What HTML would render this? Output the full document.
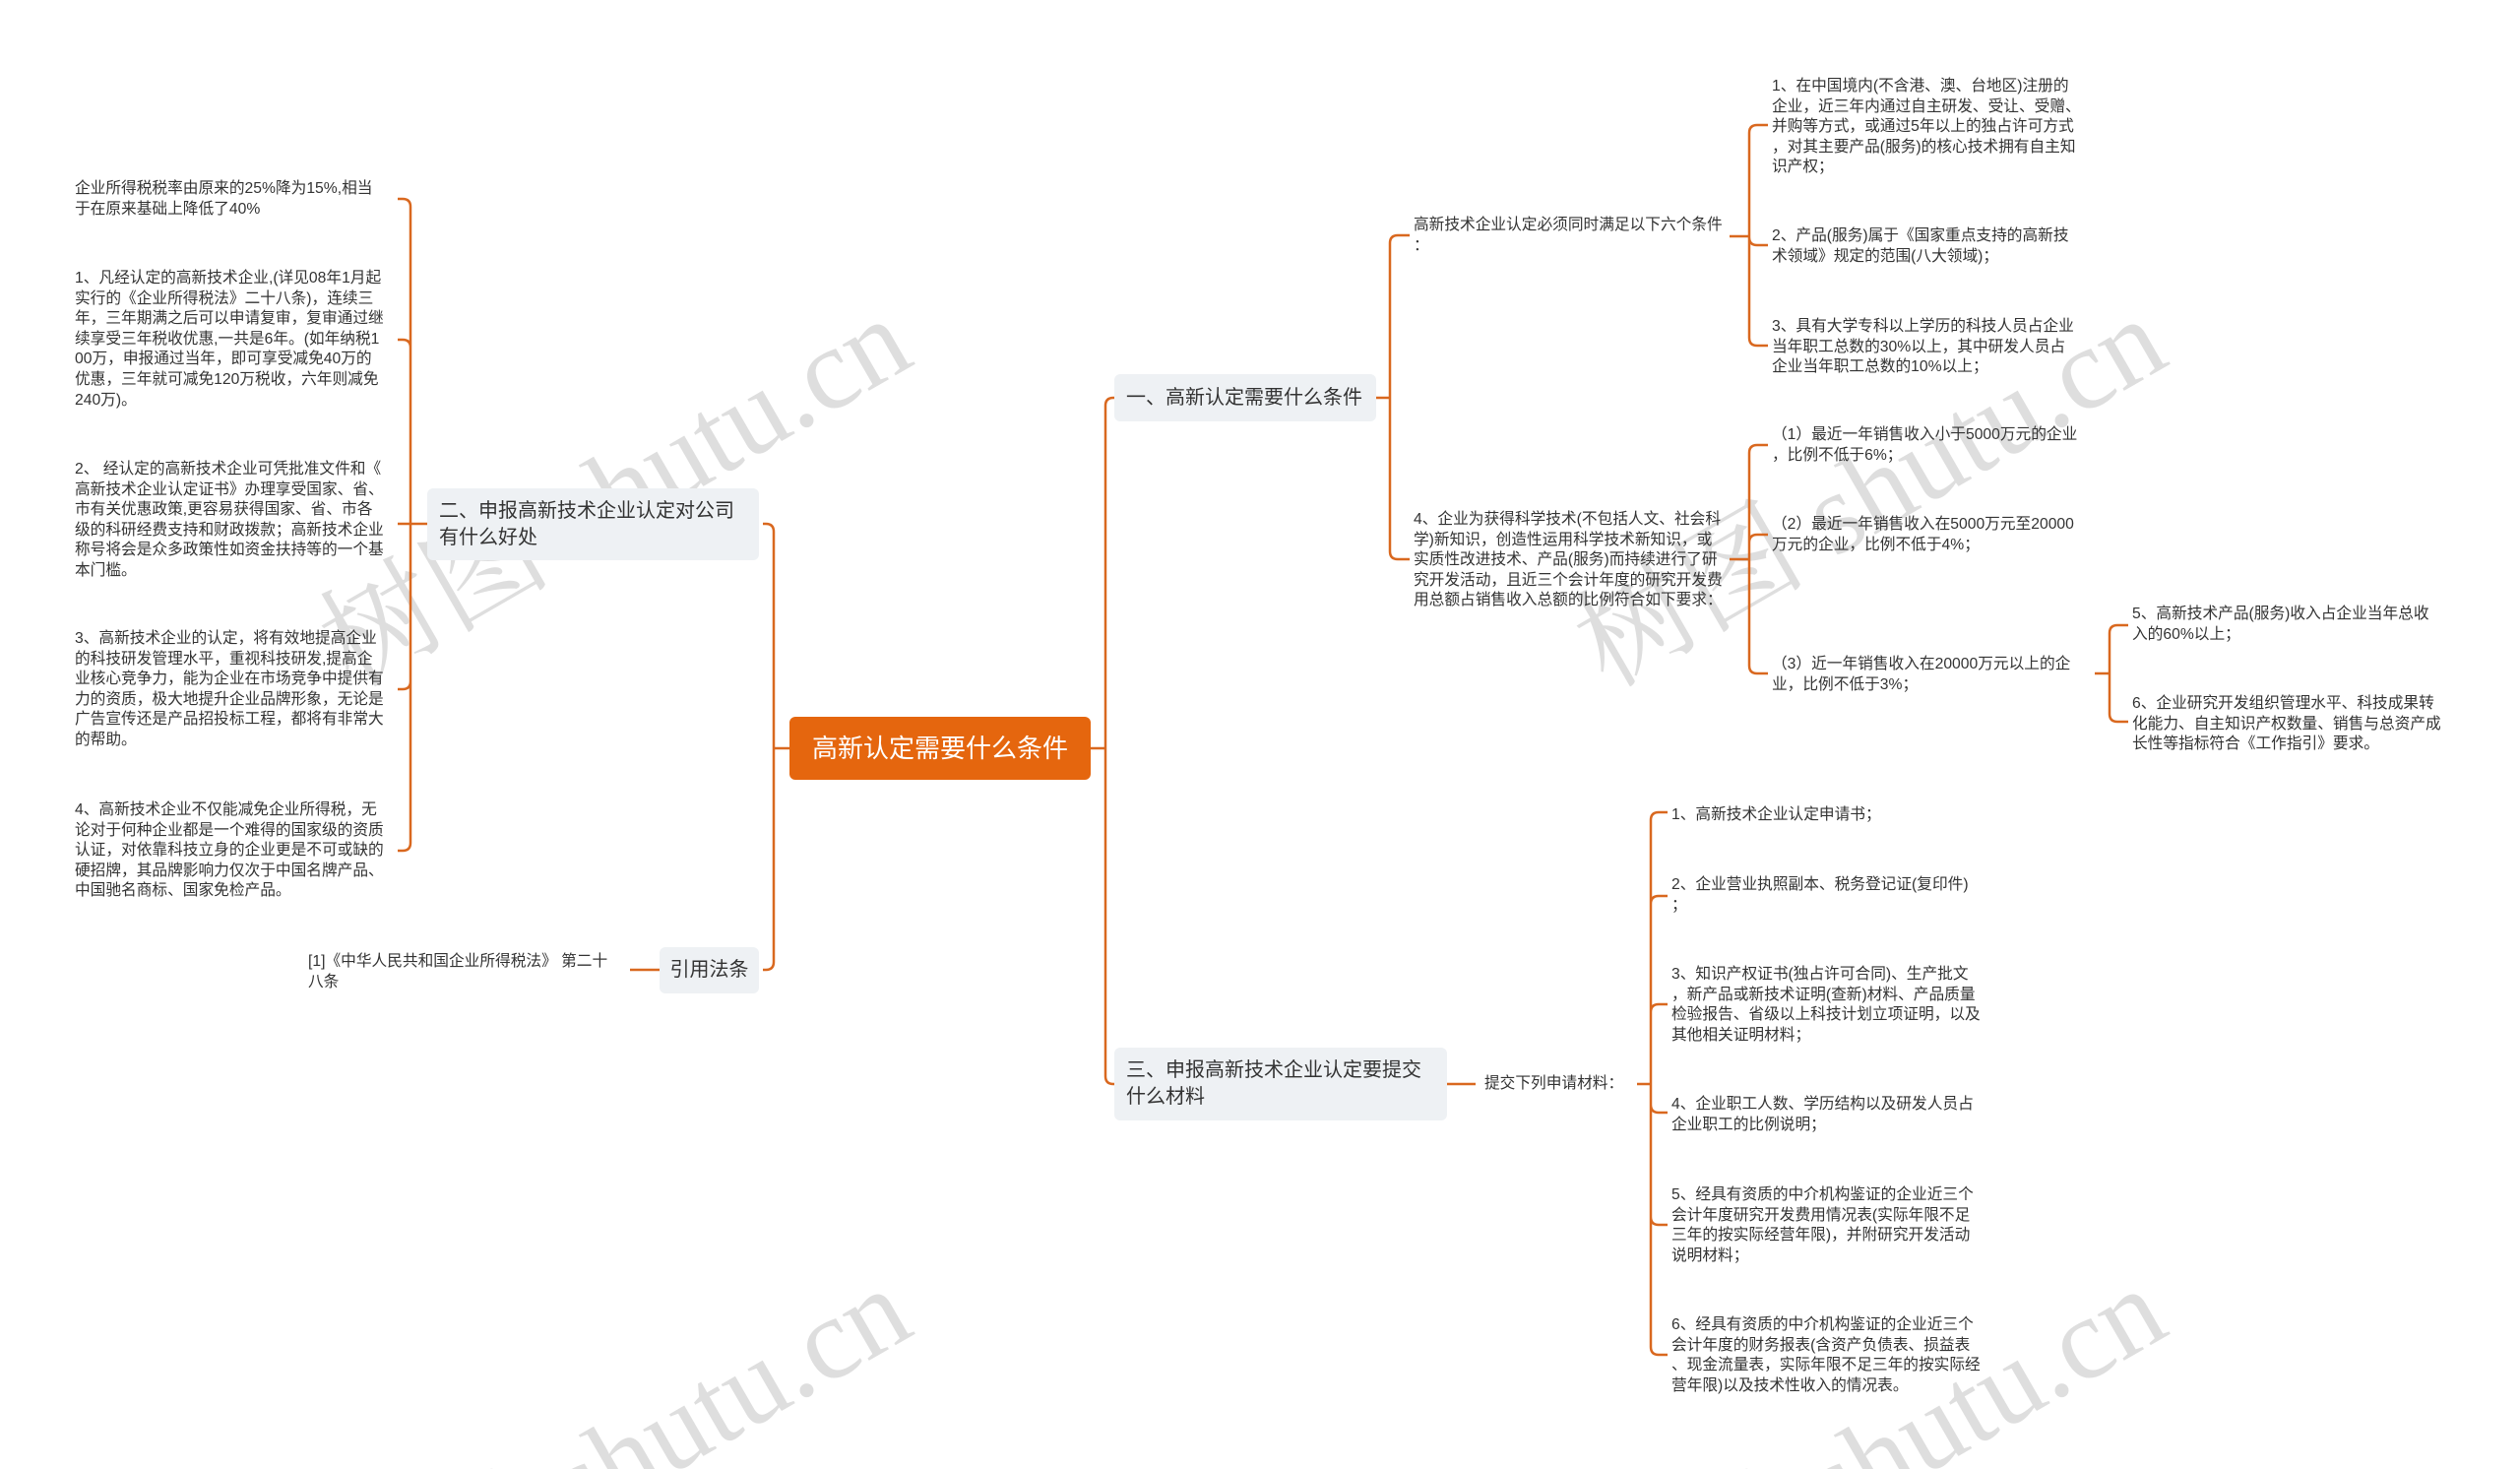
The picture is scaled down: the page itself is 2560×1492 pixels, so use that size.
<!DOCTYPE html>
<html><head><meta charset="utf-8">
<style>
html,body{margin:0;padding:0;background:#fff;width:2560px;height:1492px;overflow:hidden;}
#w{width:2560px;height:1492px;position:relative;overflow:hidden;font-family:"Liberation Sans","Noto Sans CJK SC",sans-serif;color:#333;}
.t{position:absolute;font-size:15.7px;line-height:20.6px;white-space:nowrap;color:#333;}
.n{position:absolute;background:#EEF1F4;border-radius:6px;font-size:20px;line-height:27px;color:#333;box-sizing:border-box;padding:0 12px;white-space:nowrap;}
.root{position:absolute;left:802px;top:728px;width:306px;height:64px;background:#E5660E;border-radius:6px;color:#fff;font-size:26px;line-height:64px;text-align:center;}
svg{position:absolute;left:0;top:0;}
</style></head><body><div id="w">
<svg width="2560" height="1492" viewBox="0 0 2560 1492">
<g font-family="Liberation Serif, Noto Serif CJK SC, serif" font-size="118" fill="rgba(0,0,0,0.13)" text-anchor="middle" dominant-baseline="central">
<text x="625" y="500" transform="rotate(-30 625 500)">树图 shutu.cn</text>
<text x="1900" y="500" transform="rotate(-30 1900 500)">树图 shutu.cn</text>
<text x="625" y="1485" transform="rotate(-30 625 1485)">树图 shutu.cn</text>
<text x="1900" y="1485" transform="rotate(-30 1900 1485)">树图 shutu.cn</text>
</g>
<g fill="none" stroke="#D9681F" stroke-width="2.5">
<path d="M1108,760 L1123,760 M1123,760 L1123,412 Q1123,404 1131,404 L1132,404 M1123,760 L1123,1093 Q1123,1101 1131,1101 L1132,1101"/>
<path d="M1398,404 L1412,404 M1412,404 L1412,247 Q1412,239 1420,239 L1432,239 M1412,404 L1412,560 Q1412,568 1420,568 L1432,568"/>
<path d="M1757,240 L1777,240 M1777,240 L1777,135 Q1777,127 1785,127 L1796,127 M1777,240 L1777,241 Q1777,249 1785,249 L1796,249 M1777,240 L1777,343 Q1777,351 1785,351 L1796,351"/>
<path d="M1757,568 L1777,568 M1777,568 L1777,460 Q1777,452 1785,452 L1796,452 M1777,568 L1777,551 Q1777,543 1785,543 L1796,543 M1777,568 L1777,676 Q1777,684 1785,684 L1796,684"/>
<path d="M2128,684 L2143,684 M2143,684 L2143,643 Q2143,635 2151,635 L2162,635 M2143,684 L2143,725 Q2143,733 2151,733 L2162,733"/>
<path d="M434,532 L417,532 M417,532 L417,210 Q417,202 409,202 L404,202 M417,532 L417,353 Q417,345 409,345 L404,345 M417,532 L404,532 M417,532 L417,692 Q417,700 409,700 L404,700 M417,532 L417,856 Q417,864 409,864 L404,864"/>
<path d="M802,760 L786,760 M786,760 L786,540 Q786,532 778,532 L775,532 M786,760 L786,977 Q786,985 778,985 L775,985"/>
<path d="M670,985 L640,985"/>
<path d="M1470,1101 L1499,1101"/>
<path d="M1663,1101 L1677,1101 M1677,1101 L1677,833 Q1677,825 1685,825 L1694,825 M1677,1101 L1677,918 Q1677,910 1685,910 L1694,910 M1677,1101 L1677,1028 Q1677,1020 1685,1020 L1694,1020 M1677,1101 L1677,1122 Q1677,1130 1685,1130 L1694,1130 M1677,1101 L1677,1236 Q1677,1244 1685,1244 L1694,1244 M1677,1101 L1677,1368 Q1677,1376 1685,1376 L1694,1376"/>
</g>
</svg>

<div class="root">高新认定需要什么条件</div>

<div class="n" style="left:434px;top:496px;width:337px;height:73px;padding-top:10px;">二、申报高新技术企业认定对公司<br>有什么好处</div>
<div class="n" style="left:670px;top:962px;width:101px;height:47px;line-height:47px;padding:0;text-align:center;">引用法条</div>
<div class="n" style="left:1132px;top:380px;width:266px;height:48px;line-height:48px;">一、高新认定需要什么条件</div>
<div class="n" style="left:1132px;top:1064px;width:338px;height:74px;padding-top:10px;">三、申报高新技术企业认定要提交<br>什么材料</div>

<div class="t" style="left:76px;top:182px;">企业所得税税率由原来的25%降为15%,相当<br>于在原来基础上降低了40%</div>
<div class="t" style="left:76px;top:273px;">1、凡经认定的高新技术企业,(详见08年1月起<br>实行的《企业所得税法》二十八条)，连续三<br>年，三年期满之后可以申请复审，复审通过继<br>续享受三年税收优惠,一共是6年。(如年纳税1<br>00万，申报通过当年，即可享受减免40万的<br>优惠，三年就可减免120万税收，六年则减免<br>240万)。</div>
<div class="t" style="left:76px;top:467px;">2、 经认定的高新技术企业可凭批准文件和《<br>高新技术企业认定证书》办理享受国家、省、<br>市有关优惠政策,更容易获得国家、省、市各<br>级的科研经费支持和财政拨款；高新技术企业<br>称号将会是众多政策性如资金扶持等的一个基<br>本门槛。</div>
<div class="t" style="left:76px;top:639px;">3、高新技术企业的认定，将有效地提高企业<br>的科技研发管理水平，重视科技研发,提高企<br>业核心竞争力，能为企业在市场竞争中提供有<br>力的资质，极大地提升企业品牌形象，无论是<br>广告宣传还是产品招投标工程，都将有非常大<br>的帮助。</div>
<div class="t" style="left:76px;top:813px;">4、高新技术企业不仅能减免企业所得税，无<br>论对于何种企业都是一个难得的国家级的资质<br>认证，对依靠科技立身的企业更是不可或缺的<br>硬招牌，其品牌影响力仅次于中国名牌产品、<br>中国驰名商标、国家免检产品。</div>
<div class="t" style="left:313px;top:967px;">[1]《中华人民共和国企业所得税法》 第二十<br>八条</div>

<div class="t" style="left:1436px;top:219px;">高新技术企业认定必须同时满足以下六个条件<br>：</div>
<div class="t" style="left:1436px;top:518px;">4、企业为获得科学技术(不包括人文、社会科<br>学)新知识，创造性运用科学技术新知识，或<br>实质性改进技术、产品(服务)而持续进行了研<br>究开发活动，且近三个会计年度的研究开发费<br>用总额占销售收入总额的比例符合如下要求：</div>
<div class="t" style="left:1800px;top:78px;">1、在中国境内(不含港、澳、台地区)注册的<br>企业，近三年内通过自主研发、受让、受赠、<br>并购等方式，或通过5年以上的独占许可方式<br>，对其主要产品(服务)的核心技术拥有自主知<br>识产权；</div>
<div class="t" style="left:1800px;top:230px;">2、产品(服务)属于《国家重点支持的高新技<br>术领域》规定的范围(八大领域)；</div>
<div class="t" style="left:1800px;top:322px;">3、具有大学专科以上学历的科技人员占企业<br>当年职工总数的30%以上，其中研发人员占<br>企业当年职工总数的10%以上；</div>
<div class="t" style="left:1800px;top:432px;">（1）最近一年销售收入小于5000万元的企业<br>，比例不低于6%；</div>
<div class="t" style="left:1800px;top:523px;">（2）最近一年销售收入在5000万元至20000<br>万元的企业，比例不低于4%；</div>
<div class="t" style="left:1800px;top:665px;">（3）近一年销售收入在20000万元以上的企<br>业，比例不低于3%；</div>
<div class="t" style="left:2166px;top:614px;">5、高新技术产品(服务)收入占企业当年总收<br>入的60%以上；</div>
<div class="t" style="left:2166px;top:705px;">6、企业研究开发组织管理水平、科技成果转<br>化能力、自主知识产权数量、销售与总资产成<br>长性等指标符合《工作指引》要求。</div>

<div class="t" style="left:1508px;top:1091px;">提交下列申请材料：</div>
<div class="t" style="left:1698px;top:818px;">1、高新技术企业认定申请书；</div>
<div class="t" style="left:1698px;top:889px;">2、企业营业执照副本、税务登记证(复印件)<br>；</div>
<div class="t" style="left:1698px;top:980px;">3、知识产权证书(独占许可合同)、生产批文<br>，新产品或新技术证明(查新)材料、产品质量<br>检验报告、省级以上科技计划立项证明，以及<br>其他相关证明材料；</div>
<div class="t" style="left:1698px;top:1112px;">4、企业职工人数、学历结构以及研发人员占<br>企业职工的比例说明；</div>
<div class="t" style="left:1698px;top:1204px;">5、经具有资质的中介机构鉴证的企业近三个<br>会计年度研究开发费用情况表(实际年限不足<br>三年的按实际经营年限)，并附研究开发活动<br>说明材料；</div>
<div class="t" style="left:1698px;top:1336px;">6、经具有资质的中介机构鉴证的企业近三个<br>会计年度的财务报表(含资产负债表、损益表<br>、现金流量表，实际年限不足三年的按实际经<br>营年限)以及技术性收入的情况表。</div>
</div></body></html>
